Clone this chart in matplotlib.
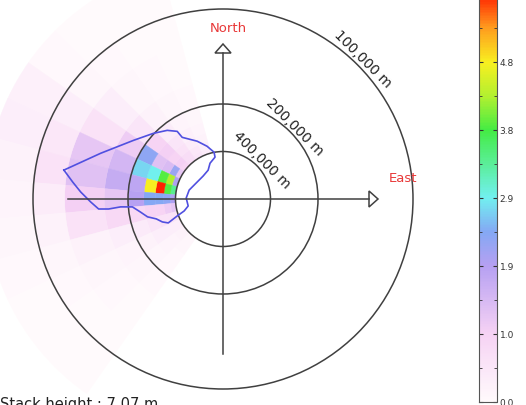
import numpy as np
import matplotlib
matplotlib.use("Agg")
import matplotlib.pyplot as plt
from matplotlib.colors import LinearSegmentedColormap, Normalize
from matplotlib.patches import Wedge, Circle, Polygon
from matplotlib.collections import PatchCollection

# sector centres (deg, counter-clockwise from East) and distance bin edges (km)
sector_deg = [110, 120, 130, 140, 150, 160, 170, 180, 190, 200, 210, 220, 230]
dist_edges_km = [400, 360, 320, 280, 240, 200, 160, 120, 100, 80]

# concentration per sector (rows) and distance bin (cols, far -> near)
conc = [
    [0.35, 0.3, 0.2, 0.15, 0.1, 0.05, 0.0, 0.0, 0.0],
    [0.5, 0.45, 0.35, 0.25, 0.15, 0.1, 0.05, 0.0, 0.0],
    [0.7, 0.7, 0.6, 0.5, 0.35, 0.2, 0.1, 0.05, 0.0],
    [0.9, 1.0, 0.9, 1.0, 0.9, 0.5, 0.3, 0.1, 0.05],
    [1.2, 2.2, 1.4, 1.3, 2.3, 1.1, 0.6, 0.3, 0.25],
    [2.0, 4.3, 3.9, 2.9, 2.7, 1.5, 1.2, 0.45, 0.3],
    [3.4, 3.9, 5.76, 4.8, 1.8, 1.7, 1.3, 0.6, 0.2],
    [2.0, 2.3, 2.4, 2.4, 1.9, 1.2, 1.0, 0.35, 0.15],
    [1.2, 1.1, 0.9, 0.9, 0.8, 0.8, 0.6, 0.2, 0.1],
    [0.6, 0.6, 0.6, 0.5, 0.4, 0.3, 0.2, 0.1, 0.05],
    [0.3, 0.3, 0.3, 0.3, 0.2, 0.15, 0.1, 0.05, 0.0],
    [0.2, 0.2, 0.15, 0.15, 0.1, 0.1, 0.05, 0.0, 0.0],
    [0.1, 0.1, 0.1, 0.05, 0.05, 0.05, 0.0, 0.0, 0.0],
]

# outline of the plume (angle deg, distance km)
contour_angle = [169.7, 159.5, 146.8, 136.7, 129.1, 124.1, 123.5, 114.1, 106.8, 100.8,
                 100.8, 109.9, 117.3, 131.0, 149.4, 165.2, 178.5, 191.3, 197.1, 200.3,
                 203.6, 200.7, 196.6, 193.3, 188.9, 185.0, 184.4, 185.0, 184.6, 181.3,
                 177.2, 173.6]
contour_km = [117.5, 145.5, 177.5, 198.5, 214.8, 232.6, 257, 300, 345, 399,
              446, 499, 586, 626, 608, 543, 516, 535, 468, 390,
              318, 293, 273, 245, 227, 209, 185, 165.5, 152.3, 143.6,
              133.4, 125.7]

ring_km = [100, 200, 400]
ring_labels = ["100,000 m", "200,000 m", "400,000 m"]
cbar_ticks = [0.0, 0.96, 1.92, 2.88, 3.84, 4.8, 5.76]
vmax = 5.76

W, H = 526, 405
PX = 190.0          # pixels for unit radius (100 km)
CX, CY = 223, 199   # centre in pixels from top-left


def to_u(km):
    # plotted radius is inverse distance, 100 km -> 1
    return 100.0 / np.asarray(km, dtype=float)


cmap = LinearSegmentedColormap.from_list("plume", [
    (0.0, "#fffafc"),
    (0.167, "#f6d2f4"),
    (0.333, "#b6a0f2"),
    (0.417, "#84a8f4"),
    (0.5, "#72f0f0"),
    (0.667, "#44ec44"),
    (0.75, "#b2f030"),
    (0.833, "#f8f020"),
    (0.92, "#ff9a1e"),
    (1.0, "#ff2200"),
])
norm = Normalize(0, vmax)

fig = plt.figure(figsize=(W / 100, H / 100), dpi=100)
ax = fig.add_axes([0, 0, 1, 1])
ax.set_xlim(-CX / PX, (W - CX) / PX)
ax.set_ylim(-(H - CY) / PX, CY / PX)
ax.axis("off")

# sector cells
u_edges = to_u(dist_edges_km)
patches, vals = [], []
for i, a in enumerate(sector_deg):
    for j in range(len(u_edges) - 1):
        r_in, r_out = u_edges[j], u_edges[j + 1]
        patches.append(Wedge((0, 0), r_out, a - 5, a + 5, width=r_out - r_in))
        vals.append(conc[i][j])
pc = PatchCollection(patches, cmap=cmap, norm=norm, edgecolor="face", linewidth=0.3)
pc.set_array(np.array(vals))
ax.add_collection(pc)

# plume outline
cu = to_u(contour_km)
ca = np.radians(contour_angle)
cx = np.append(cu * np.cos(ca), cu[0] * np.cos(ca[0]))
cy = np.append(cu * np.sin(ca), cu[0] * np.sin(ca[0]))
ax.plot(cx, cy, color="#5050e0", lw=1.2)

# distance rings with labels
line_c = "#404040"
for km, lab in zip(ring_km, ring_labels):
    r = to_u(km)
    ax.add_patch(Circle((0, 0), r, fill=False, ec=line_c, lw=1.1))
    rr = r + 7 / PX
    ax.text(rr * np.cos(np.radians(45)), rr * np.sin(np.radians(45)), lab,
            rotation=-45, ha="center", va="center", fontsize=10, color="#222222",
            rotation_mode="anchor")

# compass axes
L = 155 / PX
ah, aw = 9 / PX, 8 / PX
ax.plot([-L, L - ah], [0, 0], color=line_c, lw=1.1)
ax.plot([0, 0], [-L, L - ah], color=line_c, lw=1.1)
ax.add_patch(Polygon([[L, 0], [L - ah, aw], [L - ah, -aw]], closed=True,
                     fill=False, ec=line_c, lw=1.1))
ax.add_patch(Polygon([[0, L], [aw, L - ah], [-aw, L - ah]], closed=True,
                     fill=False, ec=line_c, lw=1.1))
ax.text(5 / PX, 170 / PX, "North", color="#e83838", fontsize=9.5, ha="center", va="center")
ax.text(180 / PX, 20 / PX, "East", color="#e83838", fontsize=9.5, ha="center", va="center")

fig.text(0 / W, 1 - 397 / H, "Stack height : 7.07 m", fontsize=10.5, color="#222222",
         ha="left", va="top")

# colour bar
cax = fig.add_axes([479 / W, 3 / H, 18 / W, 408 / H])
cb = fig.colorbar(pc, cax=cax, ticks=cbar_ticks)
cb.ax.set_yticklabels(["%.1f" % t for t in cbar_ticks])
cb.ax.yaxis.set_minor_locator(matplotlib.ticker.FixedLocator(
    [(a + b) / 2 for a, b in zip(cbar_ticks[:-1], cbar_ticks[1:])]))
cb.ax.tick_params(which="both", direction="in", left=True, right=True,
                  color="#333333", labelsize=6.5, labelcolor="#333333", pad=2)
cb.ax.tick_params(which="major", length=3)
cb.ax.tick_params(which="minor", length=2.5)
cb.outline.set_edgecolor("#555555")
cb.outline.set_linewidth(0.8)

fig.savefig("out.png", dpi=100)
